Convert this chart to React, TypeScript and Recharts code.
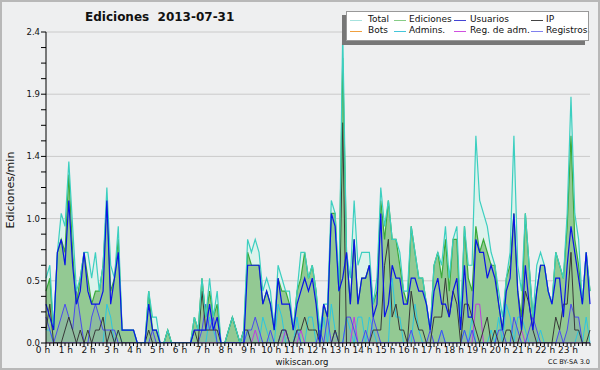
import React from "react";
import { ComposedChart, Area, Line, XAxis, YAxis, CartesianGrid } from "recharts";

// 10-minute bins, 6 per hour, values in edits/min
const total = [
  0.5, 0.6, 0.1, 0.7, 1.0, 0.9,
  1.4, 0.9, 0.4, 0.5, 0.7, 0.7,
  0.5, 0.7, 0.4, 0.6, 1.2, 0.6,
  0.5, 0.9, 0.1, 0.1, 0.1, 0.1,
  0, 0, 0, 0.4, 0.2, 0.2,
  0, 0, 0.1, 0, 0, 0,
  0, 0, 0, 0.2, 0.1, 0.5,
  0.2, 0.5, 0.2, 0.4, 0, 0,
  0.1, 0.2, 0.1, 0, 0.1, 0.8,
  0.7, 0.8, 0.7, 0.4, 0.5, 0.4,
  0.1, 0.6, 0.5, 0.4, 0.4, 0.1,
  0.4, 0.7, 0.7, 0.5, 0.6, 0.4,
  0.1, 0.3, 0.3, 1.1, 1.0, 0.4,
  2.4, 0.7, 0.5, 1.1, 0.6, 0.7,
  0.7, 0.7, 0.3, 0.5, 1.2, 0.9,
  1.1, 0.8, 0.8, 0.7, 0.4, 0.4,
  0.9, 0.7, 0.5, 0.5, 0.3, 0.1,
  0.6, 0.7, 0.6, 0.9, 0.5, 0.8,
  0.9, 0.2, 0.9, 0.6, 0.6, 1.6,
  1.1, 1.0, 0.9, 0.7, 0.6, 0.4,
  0.2, 0.5, 0.7, 1.6, 0.6, 0.4,
  1.0, 0.6, 0.2, 0.6, 0.7, 0.6,
  0.4, 0.3, 0.7, 0.6, 0.5, 1.0,
  1.9, 1.0, 0.8, 0.3, 0.7, 0.4,
];

const ediciones = [
  0.4, 0.5, 0.1, 0.7, 0.8, 0.7,
  1.3, 0.7, 0.3, 0.5, 0.7, 0.5,
  0.3, 0.4, 0.4, 0.6, 1.1, 0.4,
  0.5, 0.8, 0.1, 0.1, 0.1, 0.1,
  0, 0, 0, 0.4, 0.1, 0.1,
  0, 0, 0.1, 0, 0, 0,
  0, 0, 0, 0.2, 0.1, 0.5,
  0.2, 0.4, 0.2, 0.3, 0, 0,
  0.1, 0.2, 0.1, 0, 0.1, 0.7,
  0.6, 0.6, 0.6, 0.3, 0.4, 0.3,
  0.1, 0.5, 0.4, 0.4, 0.3, 0.1,
  0.4, 0.5, 0.7, 0.5, 0.6, 0.4,
  0, 0.3, 0.2, 1.0, 1.0, 0.4,
  2.2, 0.7, 0.3, 0.8, 0.3, 0.5,
  0.5, 0.6, 0.3, 0.4, 1.1, 0.8,
  1.1, 0.8, 0.8, 0.6, 0.4, 0.3,
  0.9, 0.7, 0.5, 0.5, 0.3, 0.1,
  0.6, 0.7, 0.5, 0.8, 0.4, 0.8,
  0.8, 0.1, 0.9, 0.5, 0.4, 0.9,
  0.7, 0.8, 0.7, 0.6, 0.6, 0.3,
  0.1, 0.5, 0.6, 1.0, 0.4, 0.2,
  1.0, 0.6, 0.2, 0.4, 0.6, 0.6,
  0.4, 0.3, 0.7, 0.6, 0.5, 0.9,
  1.6, 0.8, 0.6, 0.3, 0.7, 0.4,
];

const usuarios = [
  0.3, 0.2, 0.1, 0.7, 0.8, 0.6,
  1.1, 0.6, 0.3, 0.4, 0.7, 0.4,
  0.3, 0.3, 0.3, 0.4, 1.1, 0.3,
  0.5, 0.7, 0.1, 0.1, 0.1, 0.1,
  0, 0, 0, 0.3, 0.1, 0.1,
  0, 0, 0, 0, 0, 0,
  0, 0, 0, 0.1, 0.1, 0.1,
  0.1, 0.3, 0.1, 0.2, 0, 0,
  0, 0, 0, 0, 0, 0.6,
  0.6, 0.6, 0.6, 0.3, 0.4, 0.3,
  0.1, 0.5, 0.3, 0.3, 0.3, 0.1,
  0.3, 0.4, 0.5, 0.4, 0.5, 0.3,
  0, 0.3, 0.2, 1.0, 0.9, 0.4,
  0.5, 0.7, 0.3, 0.8, 0.3, 0.5,
  0.5, 0.6, 0.2, 0.3, 1.0, 0.2,
  0.3, 0.6, 0.5, 0.5, 0.3, 0.3,
  0.5, 0.5, 0.4, 0.4, 0.3, 0.1,
  0.4, 0.5, 0.3, 0.3, 0.2, 0.4,
  0.5, 0.1, 0.6, 0.2, 0.2, 0.8,
  0.7, 0.7, 0.5, 0.6, 0.5, 0.3,
  0.1, 0.4, 0.5, 1.0, 0.4, 0.1,
  0.6, 0.3, 0.1, 0.4, 0.6, 0.6,
  0.4, 0.3, 0.5, 0.5, 0.2, 0.6,
  0.9, 0.7, 0.5, 0.3, 0.7, 0.3,
];

const ip = [
  0.1, 0.3, 0, 0, 0, 0.1,
  0.2, 0.1, 0, 0.1, 0, 0.1,
  0, 0.1, 0.1, 0.2, 0, 0.1,
  0, 0.1, 0, 0, 0, 0,
  0, 0, 0, 0.1, 0, 0,
  0, 0, 0.1, 0, 0, 0,
  0, 0, 0, 0.1, 0, 0.4,
  0.1, 0.1, 0.1, 0.1, 0, 0,
  0.1, 0.2, 0.1, 0, 0.1, 0.1,
  0, 0, 0, 0, 0, 0,
  0, 0, 0.1, 0.1, 0, 0,
  0.1, 0.1, 0.2, 0.1, 0.1, 0.1,
  0, 0, 0, 0, 0.1, 0,
  1.7, 0, 0, 0, 0, 0,
  0, 0, 0.1, 0.1, 0.1, 0.6,
  0.8, 0.2, 0.3, 0.1, 0.1, 0,
  0.4, 0.2, 0.1, 0.1, 0, 0,
  0.2, 0.2, 0.2, 0.5, 0.2, 0.4,
  0.3, 0, 0.3, 0.3, 0.2, 0.1,
  0, 0.1, 0.2, 0, 0.1, 0,
  0, 0.1, 0.1, 0, 0, 0.1,
  0.4, 0.3, 0.1, 0, 0, 0,
  0, 0, 0.2, 0.1, 0.3, 0.3,
  0.7, 0.1, 0.1, 0, 0, 0.1,
];

const admins = [
  0.1, 0.1, 0, 0, 0, 0,
  0, 0, 0, 0, 0, 0,
  0, 0, 0, 0, 0.3, 0.2,
  0, 0.1, 0, 0, 0, 0,
  0, 0, 0, 0, 0, 0,
  0, 0, 0, 0, 0, 0,
  0, 0, 0, 0, 0, 0,
  0, 0.2, 0.1, 0, 0, 0,
  0, 0, 0, 0, 0, 0.1,
  0, 0, 0, 0.2, 0.1, 0,
  0, 0.3, 0.2, 0, 0, 0,
  0.2, 0, 0, 0.2, 0.2, 0,
  0, 0.2, 0, 0.3, 0.1, 0,
  0, 0.2, 0.1, 0, 0.2, 0.2,
  0, 0.2, 0.1, 0, 0, 0,
  0, 0.5, 0.2, 0.2, 0, 0,
  0, 0.3, 0.1, 0, 0, 0,
  0, 0, 0.1, 0, 0, 0,
  0, 0, 0.1, 0, 0.2, 0,
  0, 0, 0, 0.1, 0, 0.2,
  0, 0.3, 0.2, 0, 0.2, 0.2,
  0.1, 0, 0, 0, 0.1, 0,
  0, 0, 0, 0, 0, 0,
  0, 0, 0.1, 0, 0.2, 0,
];

const regAdm = [
  0, 0, 0, 0, 0, 0,
  0, 0, 0, 0, 0, 0,
  0, 0, 0, 0, 0, 0,
  0, 0, 0, 0, 0, 0,
  0, 0, 0, 0, 0, 0,
  0, 0, 0, 0, 0, 0,
  0, 0, 0, 0, 0, 0,
  0, 0, 0, 0, 0, 0,
  0, 0, 0, 0, 0, 0,
  0, 0.1, 0, 0, 0, 0,
  0, 0, 0, 0.1, 0, 0,
  0, 0.1, 0, 0, 0, 0,
  0, 0, 0, 0, 0, 0,
  0, 0, 0, 0.2, 0, 0,
  0, 0, 0, 0, 0, 0,
  0, 0, 0, 0, 0, 0,
  0, 0, 0, 0, 0, 0,
  0, 0, 0, 0, 0, 0,
  0, 0, 0, 0, 0, 0.3,
  0.3, 0, 0, 0, 0, 0,
  0, 0, 0, 0, 0, 0.1,
  0, 0, 0, 0, 0, 0,
  0, 0, 0, 0, 0, 0,
  0, 0, 0, 0, 0, 0,
];

const registros = [
  0.2, 0.1, 0, 0.1, 0.2, 0.3,
  0.2, 0.1, 0.4, 0.2, 0, 0,
  0.2, 0.3, 0.2, 0.1, 0.1, 0.1,
  0.1, 0, 0, 0, 0, 0,
  0, 0, 0, 0, 0.1, 0,
  0, 0, 0, 0, 0, 0,
  0, 0, 0, 0, 0, 0.1,
  0.3, 0.1, 0.2, 0, 0, 0,
  0, 0, 0, 0, 0, 0.1,
  0.1, 0.2, 0.1, 0, 0, 0.1,
  0, 0, 0.1, 0.1, 0, 0,
  0.1, 0, 0, 0, 0, 0,
  0.1, 0, 0.2, 0, 0.1, 0,
  0, 0.2, 0.2, 0.1, 0, 0,
  0.1, 0, 0.2, 0.1, 0, 0,
  0, 0, 0, 0, 0, 0,
  0.1, 0, 0, 0, 0, 0.1,
  0, 0, 0.1, 0, 0, 0,
  0, 0, 0.1, 0, 0.1, 0,
  0, 0, 0, 0, 0, 0.1,
  0.1, 0, 0, 0.2, 0.1, 0,
  0, 0.1, 0.2, 0.1, 0, 0,
  0, 0, 0, 0.1, 0, 0.1,
  0.3, 0.2, 0.2, 0, 0, 0,
];

const hourLabels = [
  "0 h", "1 h", "2 h", "3 h", "4 h", "5 h", "6 h", "7 h", "8 h", "9 h", "10 h", "11 h",
  "12 h", "13 h", "14 h", "15 h", "16 h", "17 h", "18 h", "19 h", "20 h", "21 h", "22 h", "23 h",
];

const yTicks = [0, 0.12, 0.24, 0.36, 0.48, 0.6, 0.72, 0.84, 0.96, 1.08, 1.2, 1.32, 1.44, 1.56, 1.68, 1.8, 1.92, 2.04, 2.16, 2.28, 2.4];
const yGrid = [0.48, 0.96, 1.44, 1.92, 2.4];
const yLabels = ["0.0", "0.5", "1.0", "1.4", "1.9", "2.4"];

const legendItems = [
  { name: "Total", color: "#a6e2de" },
  { name: "Ediciones", color: "#86cc86" },
  { name: "Usuarios", color: "#4444d4" },
  { name: "IP", color: "#444444" },
  { name: "Bots", color: "#f0a040" },
  { name: "Admins.", color: "#44c6da" },
  { name: "Reg. de adm.", color: "#d050e0" },
  { name: "Registros", color: "#8080ee" },
];
const legendCols = [
  { sample: 3, text: 21 },
  { sample: 47, text: 62 },
  { sample: 107, text: 123 },
  { sample: 184, text: 199 },
];

const binTicks = Array.from({ length: 144 }, (_, i) => i);

const data = total.map((t, i) => ({
  bin: i,
  total: t,
  ediciones: ediciones[i],
  usuarios: usuarios[i],
  ip: ip[i],
  admins: admins[i],
  regAdm: regAdm[i],
  registros: registros[i],
}));

const font = "'DejaVu Sans', sans-serif";

function XTick(props: any) {
  const { x, y, payload } = props;
  const v = payload.value as number;
  const major = v % 6 === 0;
  return (
    <g>
      <line x1={x} x2={x} y1={y} y2={y + (major ? 4 : 3)} stroke="#000" />
      {major && (
        <text x={x - 3} y={y + 10} textAnchor="middle" fontSize={9} fill="#111" fontFamily={font}>
          {hourLabels[v / 6]}
        </text>
      )}
    </g>
  );
}

function YTick(props: any) {
  const { x, y, payload } = props;
  const k = Math.round(payload.value / 0.12);
  return (
    <g>
      <line x1={x - 5} x2={x} y1={y} y2={y} stroke="#000" />
      {k % 4 === 0 && (
        <text x={x - 6} y={y + 3} textAnchor="end" fontSize={8.5} fill="#111" fontFamily={font}>
          {yLabels[k / 4]}
        </text>
      )}
    </g>
  );
}

export default function App() {
  return (
    <div
      style={{
        position: "absolute",
        left: 0,
        top: 0,
        width: 600,
        height: 370,
        background: "#eeeff0",
        boxShadow: "inset 0 0 0 2px #b8b8b8",
        fontFamily: font,
        color: "#111",
      }}
    >
      <ComposedChart width={600} height={370} data={data} margin={{ top: 32, right: 10, bottom: 9, left: 6 }}>
        <CartesianGrid vertical={false} horizontalValues={yGrid} stroke="#cacaca" />
        <XAxis
          dataKey="bin"
          type="number"
          domain={[0, 143]}
          ticks={binTicks}
          interval={0}
          tick={XTick}
          tickLine={false}
          tickSize={0}
          tickMargin={0}
          height={18}
          axisLine={{ stroke: "#000" }}
        />
        <YAxis
          type="number"
          domain={[0, 2.4]}
          ticks={yTicks}
          interval={0}
          tick={YTick}
          tickLine={false}
          tickSize={0}
          tickMargin={0}
          width={40}
          allowDataOverflow
          axisLine={{ stroke: "#000" }}
        />
        <Area type="linear" dataKey="total" stroke="none" fill="#ddf2ec" fillOpacity={1} isAnimationActive={false} />
        <Area type="linear" dataKey="ediciones" stroke="none" fill="#93c993" fillOpacity={1} isAnimationActive={false} />
        <Area type="linear" dataKey="registros" stroke="none" fill="#6a6ae0" fillOpacity={0.15} isAnimationActive={false} />
        <Line type="linear" dataKey="admins" stroke="#2cc6e0" strokeWidth={1} dot={false} isAnimationActive={false} />
        <Line type="linear" dataKey="regAdm" stroke="#c03ce0" strokeWidth={1} dot={false} isAnimationActive={false} />
        <Line type="linear" dataKey="registros" stroke="#4a4af0" strokeWidth={1} dot={false} isAnimationActive={false} />
        <Line type="linear" dataKey="ip" stroke="#383838" strokeWidth={1} dot={false} isAnimationActive={false} />
        <Line type="linear" dataKey="ediciones" stroke="#3aaa3a" strokeWidth={1.2} dot={false} isAnimationActive={false} />
        <Line type="linear" dataKey="total" stroke="#3ccfc0" strokeWidth={1.2} dot={false} isAnimationActive={false} />
        <Line type="linear" dataKey="usuarios" stroke="#0a14e6" strokeWidth={1.2} dot={false} isAnimationActive={false} />
      </ComposedChart>

      <div style={{ position: "absolute", left: 85, top: 10, fontSize: 12, fontWeight: "bold", whiteSpace: "pre" }}>
        {"Ediciones  2013-07-31"}
      </div>
      <div
        style={{
          position: "absolute",
          left: 10,
          top: 190,
          fontSize: 11,
          whiteSpace: "nowrap",
          transform: "translate(-50%, -50%) rotate(-90deg)",
        }}
      >
        Ediciones/min
      </div>
      <div style={{ position: "absolute", left: 0, width: 600, top: 357, textAlign: "center", fontSize: 8.5, lineHeight: "10px", marginLeft: 2 }}>
        wikiscan.org
      </div>
      <div style={{ position: "absolute", right: 10, top: 358, fontSize: 6.5 }}>CC BY-SA 3.0</div>

      <div
        style={{
          position: "absolute",
          left: 346,
          top: 11,
          width: 243,
          height: 30,
          background: "#fff",
          border: "1px solid #999",
          boxShadow: "-4px 4px 0 #777",
          boxSizing: "border-box",
          fontSize: 9,
        }}
      >
        {legendItems.map((it, idx) => {
          const col = legendCols[idx % 4];
          const row = Math.floor(idx / 4);
          const cy = 8 + row * 11;
          return (
            <React.Fragment key={it.name}>
              <div style={{ position: "absolute", left: col.sample, top: cy, width: 12, height: 1, background: it.color }} />
              <div style={{ position: "absolute", left: col.text, top: cy - 6, lineHeight: "11px", whiteSpace: "nowrap" }}>
                {it.name}
              </div>
            </React.Fragment>
          );
        })}
      </div>
    </div>
  );
}
